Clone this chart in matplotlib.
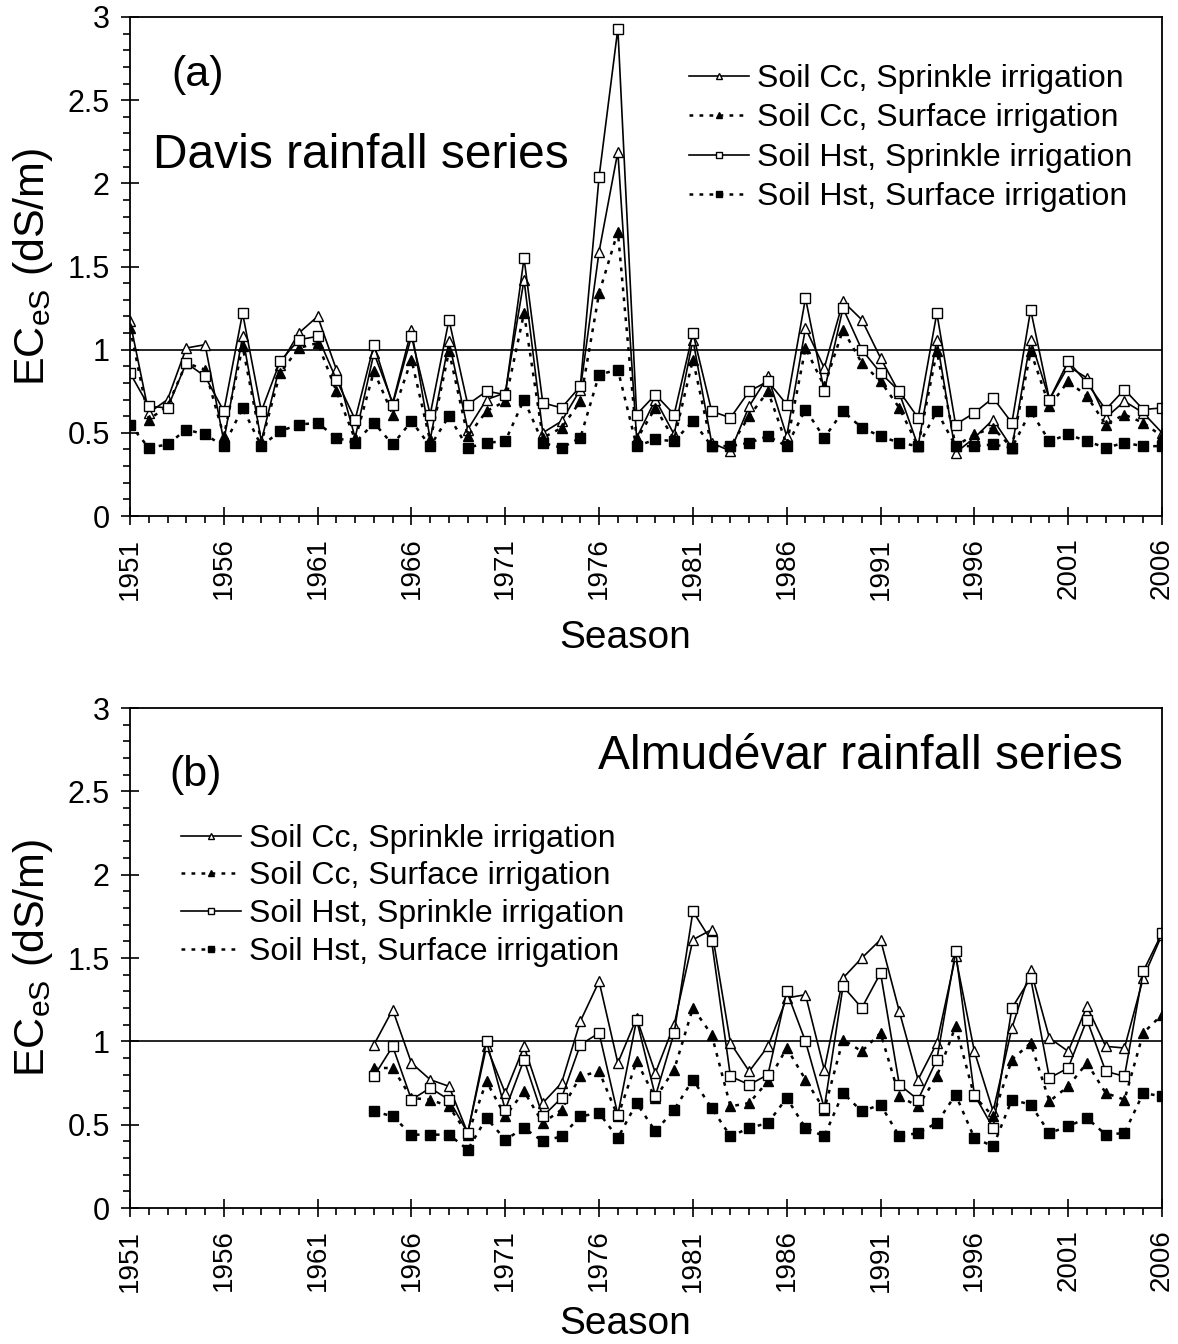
#EC_eS time series for two rainfall series (Davis / Almudevar)
import numpy as np
import matplotlib
matplotlib.use('Agg')
import matplotlib.pyplot as plt
from matplotlib.ticker import MultipleLocator, FormatStrFormatter

plt.rcParams['font.family'] = ['Liberation Sans', 'DejaVu Sans']
plt.rcParams['mathtext.default'] = 'regular'

#Step1. data
years_a = list(range(1951, 2007))
years_b = list(range(1964, 2007))

#panel (a) Davis rainfall series
cc_sprk_a = [1.17, 0.62, 0.70, 1.01, 1.03, 0.45, 1.08, 0.45, 0.91, 1.10,
             1.20, 0.88, 0.47, 0.98, 0.68, 1.12, 0.46, 1.05, 0.52, 0.70,
             0.74, 1.42, 0.50, 0.57, 0.76, 1.59, 2.19, 0.47, 0.70, 0.49,
             1.06, 0.44, 0.39, 0.66, 0.84, 0.48, 1.13, 0.89, 1.29, 1.18,
             0.95, 0.74, 0.42, 1.06, 0.38, 0.47, 0.58, 0.41, 1.06, 0.70,
             0.90, 0.83, 0.59, 0.69, 0.62, 0.50]
cc_surf_a = [1.13, 0.58, 0.66, 0.92, 0.88, 0.48, 1.02, 0.44, 0.86, 1.01,
             1.04, 0.75, 0.46, 0.87, 0.61, 0.94, 0.45, 0.99, 0.48, 0.63,
             0.69, 1.22, 0.47, 0.53, 0.69, 1.34, 1.71, 0.46, 0.65, 0.46,
             0.94, 0.42, 0.42, 0.60, 0.75, 0.43, 1.01, 0.78, 1.12, 0.92,
             0.81, 0.65, 0.42, 0.99, 0.42, 0.49, 0.53, 0.41, 0.99, 0.66,
             0.81, 0.72, 0.55, 0.61, 0.56, 0.48]
hst_sprk_a = [0.86, 0.66, 0.65, 0.92, 0.84, 0.63, 1.22, 0.63, 0.93, 1.06,
              1.08, 0.82, 0.58, 1.03, 0.67, 1.08, 0.61, 1.18, 0.67, 0.75,
              0.73, 1.55, 0.68, 0.65, 0.78, 2.04, 2.93, 0.61, 0.73, 0.61,
              1.10, 0.63, 0.59, 0.75, 0.81, 0.67, 1.31, 0.75, 1.25, 1.00,
              0.86, 0.75, 0.59, 1.22, 0.55, 0.62, 0.71, 0.56, 1.24, 0.70,
              0.93, 0.80, 0.64, 0.76, 0.64, 0.65]
hst_surf_a = [0.55, 0.41, 0.43, 0.52, 0.49, 0.42, 0.65, 0.42, 0.51, 0.55,
              0.56, 0.47, 0.44, 0.56, 0.43, 0.57, 0.42, 0.60, 0.41, 0.44,
              0.45, 0.70, 0.44, 0.41, 0.47, 0.85, 0.88, 0.42, 0.46, 0.45,
              0.57, 0.42, 0.42, 0.44, 0.48, 0.42, 0.64, 0.47, 0.63, 0.53,
              0.48, 0.44, 0.42, 0.63, 0.42, 0.42, 0.43, 0.41, 0.63, 0.45,
              0.49, 0.45, 0.41, 0.44, 0.42, 0.42]

#panel (b) Almudevar rainfall series
cc_sprk_b = [0.98, 1.19, 0.87, 0.77, 0.73, 0.45, 0.97, 0.69, 0.97, 0.63,
             0.75, 1.12, 1.36, 0.87, 1.14, 0.81, 1.10, 1.61, 1.67, 0.99,
             0.82, 0.97, 1.26, 1.28, 0.83, 1.38, 1.50, 1.61, 1.18, 0.77,
             0.99, 1.51, 0.94, 0.58, 1.08, 1.43, 1.02, 0.94, 1.21, 0.97,
             0.96, 1.38, 1.64]
cc_surf_b = [0.84, 0.84, 0.66, 0.65, 0.61, 0.44, 0.76, 0.55, 0.70, 0.51,
             0.59, 0.79, 0.82, 0.55, 0.88, 0.66, 0.83, 1.20, 1.04, 0.61,
             0.63, 0.76, 0.96, 0.77, 0.59, 1.01, 0.94, 1.05, 0.67, 0.61,
             0.79, 1.09, 0.67, 0.55, 0.89, 0.99, 0.64, 0.73, 0.87, 0.69,
             0.65, 1.05, 1.16]
hst_sprk_b = [0.79, 0.97, 0.65, 0.72, 0.65, 0.45, 1.00, 0.59, 0.89, 0.55,
              0.66, 0.98, 1.05, 0.56, 1.13, 0.67, 1.05, 1.78, 1.60, 0.79,
              0.74, 0.80, 1.30, 1.00, 0.60, 1.33, 1.20, 1.41, 0.74, 0.65,
              0.89, 1.54, 0.68, 0.48, 1.20, 1.38, 0.78, 0.84, 1.13, 0.82,
              0.79, 1.42, 1.65]
hst_surf_b = [0.58, 0.55, 0.44, 0.44, 0.44, 0.35, 0.54, 0.41, 0.48, 0.40,
              0.43, 0.55, 0.57, 0.42, 0.63, 0.46, 0.59, 0.77, 0.60, 0.43,
              0.48, 0.51, 0.66, 0.48, 0.43, 0.69, 0.58, 0.62, 0.43, 0.45,
              0.51, 0.68, 0.42, 0.37, 0.65, 0.62, 0.45, 0.49, 0.54, 0.44,
              0.45, 0.69, 0.67]

labels = ['Soil Cc, Sprinkle irrigation', 'Soil Cc, Surface irrigation',
          'Soil Hst, Sprinkle irrigation', 'Soil Hst, Surface irrigation']
xtick_years = list(range(1951, 2007, 5))

#Step2. styles for each series
dot = (0, (1.5, 2.5))
styles = [dict(ls='-', lw=1.2, marker='^', mfc='white', mec='black', ms=7.5, mew=1.0),
          dict(ls=dot, lw=1.8, marker='^', mfc='black', mec='black', ms=7.5, mew=1.0),
          dict(ls='-', lw=1.2, marker='s', mfc='white', mec='black', ms=6.5, mew=1.0),
          dict(ls=dot, lw=1.8, marker='s', mfc='black', mec='black', ms=6.5, mew=1.0)]


def draw_panel(ax, years, series, tag, tag_xy, title, title_xy, title_ha, leg_anchor,
               leg_space, xlab_y):
    '''draws one panel: four series, line at 1, ticks, labels, legend'''
    for vals, lab, st in zip(series, labels, styles):
        ax.plot(years, vals, color='black', label=lab, **st)
    ax.axhline(1.0, color='black', lw=1.2, zorder=0)

    ax.set_xlim(1951, 2006)
    ax.set_ylim(0, 3)
    ax.set_xticks(xtick_years)
    ax.xaxis.set_minor_locator(MultipleLocator(1))
    ax.yaxis.set_major_locator(MultipleLocator(0.5))
    ax.yaxis.set_minor_locator(MultipleLocator(0.1))
    ax.yaxis.set_major_formatter(FormatStrFormatter('%g'))
    ax.tick_params(which='major', direction='inout', length=13, width=1.2)
    ax.tick_params(which='minor', direction='out', length=5, width=1.2)
    ax.tick_params(axis='y', which='major', labelsize=22, pad=8)
    ax.tick_params(axis='x', which='major', labelsize=20, pad=9)
    for lab in ax.get_xticklabels():
        lab.set_rotation(90)
    for sp in ax.spines.values():
        sp.set_linewidth(1.3)

    ax.set_ylabel('$EC_{eS}$ (dS/m)', fontsize=31)
    ax.yaxis.set_label_coords(-0.073, 0.5)
    ax.set_xlabel('Season', fontsize=28)
    ax.xaxis.set_label_coords(0.48, xlab_y)

    ax.text(tag_xy[0], tag_xy[1], tag, fontsize=31, va='center', ha='left')
    ax.text(title_xy[0], title_xy[1], title, fontsize=34.5, va='center', ha=title_ha)

    ax.legend(loc='upper left', bbox_to_anchor=leg_anchor, frameon=False,
              fontsize=23, handlelength=1.88, handletextpad=0.25,
              labelspacing=leg_space, markerscale=0.65, borderaxespad=0)


#Step3. figure with two stacked panels
fig = plt.figure(figsize=(11.78, 13.44), dpi=100)
ax_a = fig.add_axes([130 / 1178, 1 - 516 / 1344, 1032 / 1178, 499 / 1344])
ax_b = fig.add_axes([130 / 1178, 1 - 1208 / 1344, 1032 / 1178, 500 / 1344])

draw_panel(ax_a, years_a, [cc_sprk_a, cc_surf_a, hst_sprk_a, hst_surf_a],
           '(a)', (1953.2, 2.65), 'Davis rainfall series', (1952.2, 2.17), 'left',
           (0.529, 0.932), 0.30, -0.208)
draw_panel(ax_b, years_b, [cc_sprk_b, cc_surf_b, hst_sprk_b, hst_surf_b],
           '(b)', (1953.1, 2.6), 'Almudévar rainfall series', (2003.9, 2.71), 'right',
           (0.037, 0.794), 0.24, -0.196)

#Step4. save
fig.savefig('out.png', dpi=100)
